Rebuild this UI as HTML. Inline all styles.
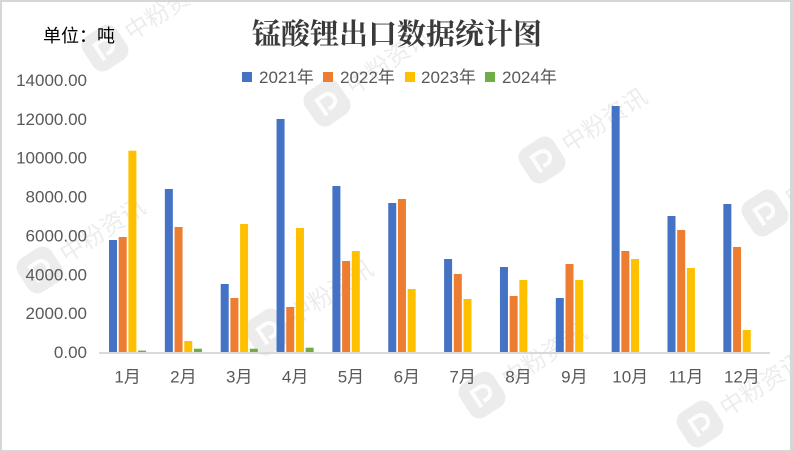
<!DOCTYPE html>
<html>
<head>
<meta charset="utf-8">
<style>
  html,body{margin:0;padding:0;background:#fff;width:794px;height:452px;overflow:hidden;}
  svg{display:block;}
  .ax{font-family:"Liberation Sans","Noto Sans CJK SC",sans-serif;font-size:17px;fill:#595959;}
  .wm{font-family:"Noto Sans CJK SC","WenQuanYi Zen Hei",sans-serif;font-size:24px;font-weight:normal;fill:#000;fill-opacity:0.075;}
</style>
</head>
<body>
<svg width="794" height="452" viewBox="0 0 794 452" xmlns="http://www.w3.org/2000/svg">
  <rect x="0" y="0" width="794" height="452" fill="#fff"/>

  <!-- watermarks -->
  <defs>
    <g id="wmk">
      <rect x="-20" y="-20" width="40" height="40" rx="11" fill="#000" fill-opacity="0.075"/>
      <path d="M-7,10 L-7,-8 L2,-8 A7,7 0 0 1 2,6 L-2,6" fill="none" stroke="#fff" stroke-width="4" stroke-opacity="0.9"/>
      <text class="wm" x="26" y="9">中粉资讯</text>
    </g>
  </defs>
  <use href="#wmk" transform="translate(105,48) rotate(-33)"/>
  <use href="#wmk" transform="translate(327,103) rotate(-35)"/>
  <use href="#wmk" transform="translate(542,160) rotate(-33)"/>
  <use href="#wmk" transform="translate(765,213) rotate(-33)"/>
  <use href="#wmk" transform="translate(40,270) rotate(-33)"/>
  <use href="#wmk" transform="translate(268,332) rotate(-33)"/>
  <use href="#wmk" transform="translate(482,395) rotate(-33)"/>
  <use href="#wmk" transform="translate(700,424) rotate(-33)"/>

  <!-- title -->
  <text x="397" y="44" text-anchor="middle" font-family="'Noto Serif CJK SC','Liberation Serif',serif" font-size="29" font-weight="bold" fill="#3a3a3a">锰酸锂出口数据统计图</text>
  <text x="43" y="42" font-family="'Liberation Sans','Noto Sans CJK SC',sans-serif" font-size="18" fill="#000">单位：吨</text>

  <!-- legend -->
  <rect x="242" y="72" width="10" height="10" fill="#4472C4"/>
  <text class="ax" x="259" y="83">2021年</text>
  <rect x="323" y="72" width="10" height="10" fill="#ED7D31"/>
  <text class="ax" x="340" y="83">2022年</text>
  <rect x="405" y="72" width="10" height="10" fill="#FFC000"/>
  <text class="ax" x="421" y="83">2023年</text>
  <rect x="485" y="72" width="10" height="10" fill="#70AD47"/>
  <text class="ax" x="502" y="83">2024年</text>

  <!-- y axis labels -->
  <g class="ax" text-anchor="end">
    <text x="87" y="86">14000.00</text>
    <text x="87" y="124.9">12000.00</text>
    <text x="87" y="163.7">10000.00</text>
    <text x="87" y="202.6">8000.00</text>
    <text x="87" y="241.4">6000.00</text>
    <text x="87" y="280.3">4000.00</text>
    <text x="87" y="319.1">2000.00</text>
    <text x="87" y="358">0.00</text>
  </g>

  <!-- bars -->
  <g fill="#4472C4">
    <rect x="109" y="240" width="8" height="112"/>
    <rect x="164.85" y="189" width="8" height="163"/>
    <rect x="220.7" y="284" width="8" height="68"/>
    <rect x="276.55" y="119" width="8" height="233"/>
    <rect x="332.4" y="186" width="8" height="166"/>
    <rect x="388.25" y="203" width="8" height="149"/>
    <rect x="444.1" y="259" width="8" height="93"/>
    <rect x="499.95" y="267" width="8" height="85"/>
    <rect x="555.8" y="298" width="8" height="54"/>
    <rect x="611.65" y="106" width="8" height="246"/>
    <rect x="667.5" y="216" width="8" height="136"/>
    <rect x="723.35" y="204" width="8" height="148"/>
  </g>
  <g fill="#ED7D31">
    <rect x="118.7" y="237" width="8" height="115"/>
    <rect x="174.55" y="227" width="8" height="125"/>
    <rect x="230.4" y="298" width="8" height="54"/>
    <rect x="286.25" y="307" width="8" height="45"/>
    <rect x="342.1" y="261" width="8" height="91"/>
    <rect x="397.95" y="199" width="8" height="153"/>
    <rect x="453.8" y="274" width="8" height="78"/>
    <rect x="509.65" y="296" width="8" height="56"/>
    <rect x="565.5" y="264" width="8" height="88"/>
    <rect x="621.35" y="251" width="8" height="101"/>
    <rect x="677.2" y="230" width="8" height="122"/>
    <rect x="733.05" y="247" width="8" height="105"/>
  </g>
  <g fill="#FFC000">
    <rect x="128.4" y="150.7" width="8" height="201.3"/>
    <rect x="184.25" y="341" width="8" height="11"/>
    <rect x="240.1" y="224" width="8" height="128"/>
    <rect x="295.95" y="228" width="8" height="124"/>
    <rect x="351.8" y="251" width="8" height="101"/>
    <rect x="407.65" y="289" width="8" height="63"/>
    <rect x="463.5" y="299" width="8" height="53"/>
    <rect x="519.35" y="280" width="8" height="72"/>
    <rect x="575.2" y="280" width="8" height="72"/>
    <rect x="631.05" y="259" width="8" height="93"/>
    <rect x="686.9" y="268" width="8" height="84"/>
    <rect x="742.75" y="330" width="8" height="22"/>
  </g>
  <g fill="#70AD47">
    <rect x="138.1" y="350.6" width="8" height="1.4"/>
    <rect x="193.95" y="348.7" width="8" height="3.3"/>
    <rect x="249.8" y="348.7" width="8" height="3.3"/>
    <rect x="305.65" y="347.7" width="8" height="4.3"/>
  </g>

  <!-- x axis line -->
  <rect x="99" y="352" width="671" height="2" fill="#d9d9d9"/>

  <!-- x labels -->
  <g class="ax" text-anchor="middle">
    <text x="127.55" y="382.5">1月</text>
    <text x="183.4" y="382.5">2月</text>
    <text x="239.25" y="382.5">3月</text>
    <text x="295.1" y="382.5">4月</text>
    <text x="350.95" y="382.5">5月</text>
    <text x="406.8" y="382.5">6月</text>
    <text x="462.65" y="382.5">7月</text>
    <text x="518.5" y="382.5">8月</text>
    <text x="574.35" y="382.5">9月</text>
    <text x="630.2" y="382.5">10月</text>
    <text x="686.05" y="382.5">11月</text>
    <text x="741.9" y="382.5">12月</text>
  </g>

  <!-- border -->
  <rect x="0" y="0" width="794" height="2" fill="#d6d6d6"/>
  <rect x="0" y="450" width="794" height="2" fill="#d6d6d6"/>
  <rect x="0" y="0" width="2" height="452" fill="#d6d6d6"/>
  <rect x="790" y="0" width="4" height="452" fill="#d6d6d6"/>
</svg>
</body>
</html>
